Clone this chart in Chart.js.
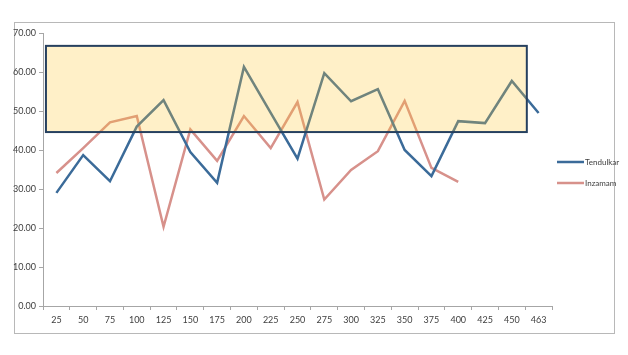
<!DOCTYPE html>
<html>
<head>
<meta charset="utf-8">
<script src="https://cdn.jsdelivr.net/npm/chart.js@4/dist/chart.umd.min.js"></script>
<style>
  html, body { margin: 0; padding: 0; background: #fff; }
  #wrap { position: absolute; left: 0; top: 0; width: 628px; height: 355px; }
</style>
</head>
<body>
<div id="wrap"><canvas id="c" width="628" height="355"></canvas></div>
<script>
const categories = ["25","50","75","100","125","150","175","200","225","250","275","300","325","350","375","400","425","450","463"];
const tendulkar = [29.0, 38.7, 32.0, 46.0, 52.8, 39.5, 31.6, 61.3, 49.5, 37.8, 59.7, 52.5, 55.6, 40.0, 33.3, 47.4, 46.9, 57.7, 49.5];
const inzamam  = [34.1, 40.5, 47.1, 48.7, 20.3, 45.3, 37.2, 48.7, 40.5, 52.3, 27.3, 34.9, 39.7, 52.6, 35.4, 31.8];
const yTicks = [0, 10, 20, 30, 40, 50, 60, 70];
// highlighted band (in data units: category index range and value range)
const bandX = [-0.39, 17.56];
const bandY = [44.6, 66.7];

const FONT = "Lato, 'Liberation Sans', sans-serif";

const framePlugin = {
  id: 'frame',
  beforeDraw(chart) {
    const ctx = chart.ctx;
    ctx.save();
    ctx.fillStyle = '#ffffff';
    ctx.fillRect(0, 0, chart.width, chart.height);
    ctx.strokeStyle = '#b8b8b8';
    ctx.lineWidth = 1;
    ctx.strokeRect(14.5, 22.5, 600, 311);
    ctx.restore();
  },
  afterDatasetsDraw(chart) {
    const ctx = chart.ctx;
    const xs = chart.scales.x, ys = chart.scales.y;
    const x0 = xs.getPixelForValue(bandX[0]);
    const x1 = xs.getPixelForValue(bandX[1]);
    const y0 = ys.getPixelForValue(bandY[1]);
    const y1 = ys.getPixelForValue(bandY[0]);
    ctx.save();
    ctx.fillStyle = 'rgba(255,200,50,0.27)';
    ctx.fillRect(x0, y0, x1 - x0, y1 - y0);
    ctx.strokeStyle = '#26405f';
    ctx.lineWidth = 2;
    ctx.strokeRect(x0, y0, x1 - x0, y1 - y0);
    ctx.restore();
  },
  afterDraw(chart) {
    const ctx = chart.ctx;
    ctx.save();
    ctx.font = '8px ' + FONT;
    ctx.textBaseline = 'middle';
    const items = chart.data.datasets;
    const baseY = 162;
    items.forEach((ds, i) => {
      const y = baseY + i * 21;
      ctx.strokeStyle = ds.borderColor;
      ctx.lineWidth = 2.5;
      ctx.beginPath();
      ctx.moveTo(557, y);
      ctx.lineTo(584, y);
      ctx.stroke();
      ctx.fillStyle = '#404040';
      ctx.fillText(ds.label, 585, y);
    });
    ctx.restore();
  }
};

new Chart(document.getElementById('c'), {
  type: 'line',
  data: {
    labels: categories,
    datasets: [
      { label: 'Tendulkar', data: tendulkar, borderColor: '#3b6b99', backgroundColor: '#3b6b99',
        borderWidth: 2.5, pointRadius: 0, tension: 0, fill: false },
      { label: 'Inzamam', data: inzamam, borderColor: '#d7918b', backgroundColor: '#d7918b',
        borderWidth: 2.5, pointRadius: 0, tension: 0, fill: false }
    ]
  },
  options: {
    responsive: false,
    animation: false,
    devicePixelRatio: 1,
    layout: { padding: { left: 0, top: 33, right: 76, bottom: 0 } },
    plugins: { legend: { display: false }, tooltip: { enabled: false } },
    scales: {
      x: {
        offset: true,
        grid: { display: true, drawOnChartArea: false, offset: true, tickLength: 4, color: '#a6a6a6' },
        border: { display: true, color: '#a6a6a6', width: 1 },
        ticks: { font: { size: 9, family: FONT }, color: '#404040', maxRotation: 0, autoSkip: false, padding: 5 },
        afterFit(s) { s.height = 355 - 306; }
      },
      y: {
        min: 0, max: 70,
        afterBuildTicks(s) { s.ticks = yTicks.map(v => ({ value: v })); },
        grid: { display: true, drawOnChartArea: false, tickLength: 4, color: '#a6a6a6' },
        border: { display: true, color: '#a6a6a6', width: 1 },
        ticks: { font: { size: 9, family: FONT }, color: '#404040', padding: 3,
                 callback: v => Number(v).toFixed(2) },
        afterFit(s) { s.width = 43; }
      }
    }
  },
  plugins: [framePlugin]
});
</script>
</body>
</html>
